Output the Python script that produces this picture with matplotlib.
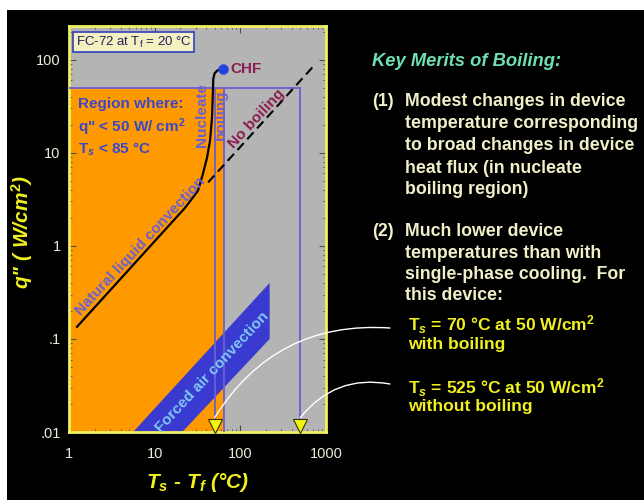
import matplotlib
matplotlib.use('Agg')
import matplotlib.pyplot as plt
from matplotlib.patches import Rectangle, Polygon
from matplotlib.ticker import NullFormatter

plt.rcParams['font.family'] = ['Liberation Sans', 'DejaVu Sans']
plt.rcParams['mathtext.fontset'] = 'custom'
plt.rcParams['mathtext.rm'] = 'Liberation Sans:bold'
plt.rcParams['mathtext.it'] = 'Liberation Sans:bold:italic'
plt.rcParams['mathtext.bf'] = 'Liberation Sans:bold'

# boiling curve (T_s - T_f vs q'')
curve_dt = [1.24, 22.6, 32, 36.6, 40.8, 44.3, 46.7, 47.8, 48.3, 50, 53.4, 58, 62.8]
curve_q = [0.135, 2.56, 3.9, 5.95, 8.8, 13.5, 23.8, 45, 62, 71, 76, 79, 80]
# no boiling extension
noboil_dt = [42, 705]
noboil_q = [4.8, 84]
# forced air band outline
air_dt = [5.6, 21, 220, 220]
air_q = [0.01, 0.01, 0.1, 0.4]
# operating region and limit lines
region_dt = [1, 65]
region_q = [0.01, 50]
q_limit = 50
dt_boil = 50
dt_noboil = 500
chf_dt, chf_q = 63, 80

xticks = [1, 10, 100, 1000]
xlabels = ['1', '10', '100', '1000']
yticks = [0.01, 0.1, 1, 10, 100]
ylabels = ['.01', '.1', '1', '10', '100']

orange = '#ff9900'
slate = '#6a60d0'
textblue = '#3c48c8'
maroon = '#8a1e52'
yellow = '#f0f020'
cream = '#f2f0c8'

W, H = 644, 500
fig = plt.figure(figsize=(6.44, 5.0), dpi=100, facecolor='black')
fig.add_artist(Rectangle((0, 1 - 10 / H), 1, 10 / H, transform=fig.transFigure,
                         facecolor='white', edgecolor='none', zorder=-1))
fig.add_artist(Rectangle((0, 0), 7 / W, 1, transform=fig.transFigure,
                         facecolor='white', edgecolor='none', zorder=-1))

ax = fig.add_axes([69 / W, 1 - 432 / H, (326 - 69) / W, (432 - 26) / H])
ax.set_xscale('log')
ax.set_yscale('log')
ax.set_xlim(1, 1000)
ax.set_ylim(0.01, 230)
ax.set_facecolor('#b4b4b4')

# orange region
ax.add_patch(Rectangle((region_dt[0], region_q[0]), region_dt[1] - region_dt[0],
                       region_q[1] - region_q[0], facecolor=orange, edgecolor='none', zorder=1))
# forced air band
ax.add_patch(Polygon(list(zip(air_dt, air_q)), closed=True, facecolor='#3a3ad0',
                     edgecolor='none', zorder=2))

# limit lines
ax.plot([1, dt_noboil], [q_limit, q_limit], color=slate, lw=1.3, zorder=3)
ax.plot([dt_boil, dt_boil], [0.01, q_limit], color=slate, lw=1.3, zorder=3)
ax.plot([region_dt[1], region_dt[1]], [0.01, q_limit], color=slate, lw=1.3, zorder=3)
ax.plot([dt_noboil, dt_noboil], [0.01, q_limit], color=slate, lw=1.3, zorder=3)

# curves
ax.plot(noboil_dt, noboil_q, color='black', lw=1.5, dashes=(4.5, 2.5), zorder=4)
ax.plot(curve_dt, curve_q, color='black', lw=1.6, zorder=4)
ax.plot([chf_dt], [chf_q], 'o', color='#2244dd', ms=6.5, zorder=5)

# triangles
ax.plot([dt_boil, dt_noboil], [0.0117, 0.0117], 'v', ms=10, markerfacecolor='#f4f410',
        markeredgecolor='#333300', markeredgewidth=0.8, clip_on=False, zorder=6)

# labels inside the plot
ax.text(76, 80, 'CHF', color=maroon, fontsize=11, fontweight='bold', va='center', zorder=6)
ax.text(155, 23, 'No boiling', color=maroon, fontsize=11, fontweight='bold',
        rotation=47, ha='center', va='center', zorder=6)
ax.text(46, 25.6, 'Nucleate\nboiling', color=slate, fontsize=11, fontweight='bold',
        rotation=90, ha='center', va='center', linespacing=1.45, zorder=6)
ax.text(6.74, 0.98, 'Natural liquid convection', color=slate, fontsize=11,
        fontweight='bold', rotation=47, ha='center', va='center', zorder=6)
ax.text(46.6, 0.044, 'Forced air convection', color='#80c8f4', fontsize=11,
        fontweight='bold', rotation=47, ha='center', va='center', zorder=6)
ax.text(1.27, 33.6, 'Region where:', color=textblue, fontsize=11, fontweight='bold',
        va='center', zorder=6)
ax.text(1.27, 18.6, 'q" < 50 W/ cm$^2$', color=textblue, fontsize=11, fontweight='bold',
        va='center', zorder=6)
ax.text(1.27, 10.8, 'T$_s$ < 85 °C', color=textblue, fontsize=11, fontweight='bold',
        va='center', zorder=6)
ax.text(1.2, 155, 'FC-72 at T$_\\mathregular{f}$ = 20 °C', color='#202060', fontsize=9.5,
        va='center', zorder=6,
        bbox=dict(boxstyle='square,pad=0.2', facecolor='#f4f0c0', edgecolor='#3040c0', lw=1.2))

# axes styling
for s in ax.spines.values():
    s.set_color('#f0f060')
    s.set_linewidth(2)
ax.set_xticks(xticks)
ax.set_xticklabels(xlabels)
ax.set_yticks(yticks)
ax.set_yticklabels(ylabels)
ax.xaxis.set_minor_formatter(NullFormatter())
ax.yaxis.set_minor_formatter(NullFormatter())
ax.tick_params(which='both', direction='in', top=True, right=True, color='#505050',
               labelcolor='#ecebd8', labelsize=10.5)
ax.tick_params(which='major', length=5, pad=6)
ax.tick_params(which='minor', length=2.5)
ax.tick_params(axis='x', which='major', pad=11)

ax.set_xlabel('T$_s$ - T$_f$ (°C)', color=yellow, fontsize=15, fontweight='bold',
              fontstyle='italic')
ax.set_ylabel('q" ( W/cm$^2$)', color=yellow, fontsize=15, fontweight='bold',
              fontstyle='italic')
ax.xaxis.set_label_coords((198 - 69) / 257, (432 - 482) / 406)
ax.yaxis.set_label_coords((22 - 69) / 257, (432 - 232) / 406)
ax.xaxis.label.set_va('center')
ax.yaxis.label.set_va('center')


def px(x, y):
    return x / W, 1 - y / H


fs = 12.8
# right-hand text
fig.text(*px(372, 62), 'Key Merits of Boiling:', color='#6ee0b4', fontsize=13.2,
         fontweight='bold', fontstyle='italic', va='center')
fig.text(*px(372, 102), '(1)', color=cream, fontsize=fs, fontweight='bold', va='center')
lines1 = ['Modest changes in device', 'temperature corresponding',
          'to broad changes in device', 'heat flux (in nucleate', 'boiling region)']
for i, t in enumerate(lines1):
    fig.text(*px(405, 102 + 22 * i), t, color=cream, fontsize=fs, fontweight='bold', va='center')
fig.text(*px(372, 232), '(2)', color=cream, fontsize=fs, fontweight='bold', va='center')
lines2 = ['Much lower device', 'temperatures than with',
          'single-phase cooling.  For', 'this device:']
for i, t in enumerate(lines2):
    fig.text(*px(405, 232 + 21.3 * i), t, color=cream, fontsize=fs, fontweight='bold', va='center')

fs2 = 12.6
fig.text(*px(408, 325), 'T$_s$ = 70 °C at 50 W/cm$^2$', color=yellow, fontsize=fs2,
         fontweight='bold', va='center')
fig.text(*px(408, 345), 'with boiling', color=yellow, fontsize=fs2, fontweight='bold', va='center')
fig.text(*px(408, 388), 'T$_s$ = 525 °C at 50 W/cm$^2$', color=yellow, fontsize=fs2,
         fontweight='bold', va='center')
fig.text(*px(408, 407), 'without boiling', color=yellow, fontsize=fs2, fontweight='bold',
         va='center')

# pointer arcs
ax.annotate('', xy=(dt_boil, 0.0142), xycoords='data', xytext=(390, H - 328),
            textcoords='figure pixels', annotation_clip=False,
            arrowprops=dict(arrowstyle='-', color='white', lw=1,
                            connectionstyle='arc3,rad=0.3', shrinkA=0, shrinkB=0))
ax.annotate('', xy=(dt_noboil, 0.0142), xycoords='data', xytext=(390, H - 384),
            textcoords='figure pixels', annotation_clip=False,
            arrowprops=dict(arrowstyle='-', color='white', lw=1,
                            connectionstyle='arc3,rad=0.3', shrinkA=0, shrinkB=0))

fig.savefig('out.png', dpi=100, facecolor=fig.get_facecolor())
